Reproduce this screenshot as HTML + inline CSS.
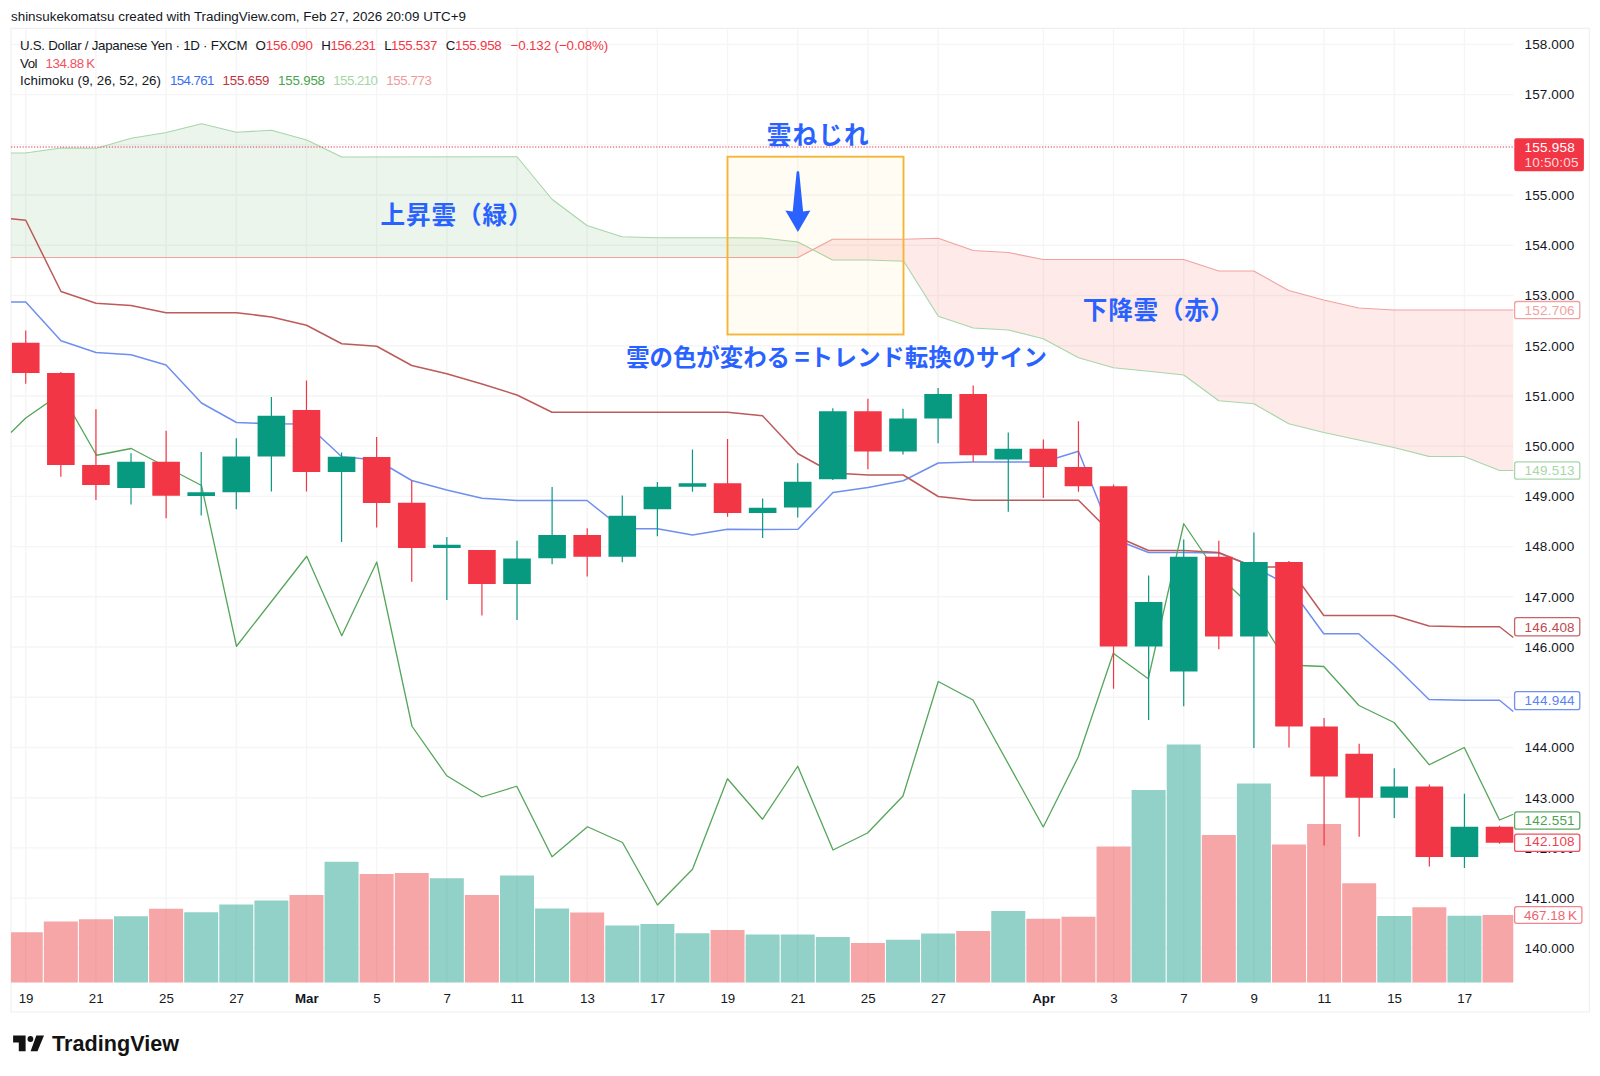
<!DOCTYPE html>
<html lang="ja"><head><meta charset="utf-8"><title>USDJPY Ichimoku chart</title>
<style>html,body{margin:0;padding:0;background:#fff}body{width:1600px;height:1076px;overflow:hidden}svg{display:block}text{font-family:"Liberation Sans","Noto Sans CJK JP",sans-serif;}</style></head><body>
<svg width="1600" height="1076" viewBox="0 0 1600 1076">
<rect width="1600" height="1076" fill="#fff"/>
<g stroke="#f5f5f6" stroke-width="1.4" fill="none">
<line x1="25.75" y1="28.3" x2="25.75" y2="983.0"/>
<line x1="95.93" y1="28.3" x2="95.93" y2="983.0"/>
<line x1="166.11" y1="28.3" x2="166.11" y2="983.0"/>
<line x1="236.29" y1="28.3" x2="236.29" y2="983.0"/>
<line x1="306.47" y1="28.3" x2="306.47" y2="983.0"/>
<line x1="376.65" y1="28.3" x2="376.65" y2="983.0"/>
<line x1="446.83" y1="28.3" x2="446.83" y2="983.0"/>
<line x1="517.01" y1="28.3" x2="517.01" y2="983.0"/>
<line x1="587.19" y1="28.3" x2="587.19" y2="983.0"/>
<line x1="657.37" y1="28.3" x2="657.37" y2="983.0"/>
<line x1="727.55" y1="28.3" x2="727.55" y2="983.0"/>
<line x1="797.73" y1="28.3" x2="797.73" y2="983.0"/>
<line x1="867.91" y1="28.3" x2="867.91" y2="983.0"/>
<line x1="938.09" y1="28.3" x2="938.09" y2="983.0"/>
<line x1="1043.36" y1="28.3" x2="1043.36" y2="983.0"/>
<line x1="1113.54" y1="28.3" x2="1113.54" y2="983.0"/>
<line x1="1183.72" y1="28.3" x2="1183.72" y2="983.0"/>
<line x1="1253.90" y1="28.3" x2="1253.90" y2="983.0"/>
<line x1="1324.08" y1="28.3" x2="1324.08" y2="983.0"/>
<line x1="1394.26" y1="28.3" x2="1394.26" y2="983.0"/>
<line x1="1464.44" y1="28.3" x2="1464.44" y2="983.0"/>
<line x1="11" y1="948.36" x2="1513.3" y2="948.36"/>
<line x1="11" y1="898.14" x2="1513.3" y2="898.14"/>
<line x1="11" y1="847.92" x2="1513.3" y2="847.92"/>
<line x1="11" y1="797.70" x2="1513.3" y2="797.70"/>
<line x1="11" y1="747.48" x2="1513.3" y2="747.48"/>
<line x1="11" y1="697.26" x2="1513.3" y2="697.26"/>
<line x1="11" y1="647.04" x2="1513.3" y2="647.04"/>
<line x1="11" y1="596.82" x2="1513.3" y2="596.82"/>
<line x1="11" y1="546.60" x2="1513.3" y2="546.60"/>
<line x1="11" y1="496.38" x2="1513.3" y2="496.38"/>
<line x1="11" y1="446.16" x2="1513.3" y2="446.16"/>
<line x1="11" y1="395.94" x2="1513.3" y2="395.94"/>
<line x1="11" y1="345.72" x2="1513.3" y2="345.72"/>
<line x1="11" y1="295.50" x2="1513.3" y2="295.50"/>
<line x1="11" y1="245.28" x2="1513.3" y2="245.28"/>
<line x1="11" y1="195.06" x2="1513.3" y2="195.06"/>
<line x1="11" y1="144.84" x2="1513.3" y2="144.84"/>
<line x1="11" y1="94.62" x2="1513.3" y2="94.62"/>
<line x1="11" y1="44.40" x2="1513.3" y2="44.40"/>
</g>
<g stroke="#f0f0f2" stroke-width="1.2" fill="none">
<path d="M11,28.3 H1589.3 V1012 H11 Z"/>
</g>
<polygon points="11,153 25.25,153 61.25,148 96.5,148.25 131.25,138.25 166.25,132.5 201.5,123.75 236.5,132.25 271.5,130.25 306.75,140 341.75,157 517,156.75 552,199.25 587,225.5 622,236.75 657.5,237.75 727.5,237.75 762.5,238 798,242 798,257.5 11,257.5" fill="#43a047" fill-opacity="0.105"/>
<polygon points="798,257.5 832.5,239.25 903.75,239.25 938.25,238.25 973.25,250.5 1008.25,252.5 1043.25,259.5 1183.75,259.5 1218.75,271 1253.75,271 1288.75,290.5 1323.75,300 1358.75,308 1393.75,310 1513.3,310 1513.3,470.5 1499.6,470.5 1464,456.5 1428.9,456.4 1393.75,447.5 1358.75,440 1323.75,432.5 1288.75,423.75 1253.75,403.75 1218.75,400.75 1183.75,375 1148.75,371.25 1113.5,367.75 1078.5,357.75 1043.25,338.75 1008.25,330 973.25,328 938.25,316.25 903.75,261.25 867.5,260 832.5,260 798,242" fill="#f44336" fill-opacity="0.115"/>
<polyline points="11,153 25.25,153 61.25,148 96.5,148.25 131.25,138.25 166.25,132.5 201.5,123.75 236.5,132.25 271.5,130.25 306.75,140 341.75,157 517,156.75 552,199.25 587,225.5 622,236.75 657.5,237.75 727.5,237.75 762.5,238 798,242 832.5,260 867.5,260 903.75,261.25 938.25,316.25 973.25,328 1008.25,330 1043.25,338.75 1078.5,357.75 1113.5,367.75 1148.75,371.25 1183.75,375 1218.75,400.75 1253.75,403.75 1288.75,423.75 1323.75,432.5 1358.75,440 1393.75,447.5 1428.9,456.4 1464,456.5 1499.6,470.5 1513.3,470.5" fill="none" stroke="#a8d6aa" stroke-width="1.15" stroke-linejoin="round"/>
<polyline points="11,257.5 798,257.5 832.5,239.25 903.75,239.25 938.25,238.25 973.25,250.5 1008.25,252.5 1043.25,259.5 1183.75,259.5 1218.75,271 1253.75,271 1288.75,290.5 1323.75,300 1358.75,308 1393.75,310 1513.3,310" fill="none" stroke="#f0a2a2" stroke-width="1.15" stroke-linejoin="round"/>
<g>
<rect x="11.00" y="932.25" width="31.75" height="50.25" fill="#f7a6a8"/>
<rect x="43.84" y="921.5" width="34.00" height="61" fill="#f7a6a8"/>
<rect x="78.93" y="919.25" width="34.00" height="63.25" fill="#f7a6a8"/>
<rect x="114.02" y="916.25" width="34.00" height="66.25" fill="#92d1c8"/>
<rect x="149.11" y="908.75" width="34.00" height="73.75" fill="#f7a6a8"/>
<rect x="184.20" y="912.25" width="34.00" height="70.25" fill="#92d1c8"/>
<rect x="219.29" y="904.5" width="34.00" height="78" fill="#92d1c8"/>
<rect x="254.38" y="900.5" width="34.00" height="82" fill="#92d1c8"/>
<rect x="289.47" y="895" width="34.00" height="87.5" fill="#f7a6a8"/>
<rect x="324.56" y="861.75" width="34.00" height="120.75" fill="#92d1c8"/>
<rect x="359.65" y="874" width="34.00" height="108.5" fill="#f7a6a8"/>
<rect x="394.74" y="873" width="34.00" height="109.5" fill="#f7a6a8"/>
<rect x="429.83" y="878.25" width="34.00" height="104.25" fill="#92d1c8"/>
<rect x="464.92" y="895" width="34.00" height="87.5" fill="#f7a6a8"/>
<rect x="500.01" y="875.5" width="34.00" height="107" fill="#92d1c8"/>
<rect x="535.10" y="908.5" width="34.00" height="74" fill="#92d1c8"/>
<rect x="570.19" y="912.5" width="34.00" height="70" fill="#f7a6a8"/>
<rect x="605.28" y="925.5" width="34.00" height="57" fill="#92d1c8"/>
<rect x="640.37" y="924" width="34.00" height="58.5" fill="#92d1c8"/>
<rect x="675.46" y="933.25" width="34.00" height="49.25" fill="#92d1c8"/>
<rect x="710.55" y="930" width="34.00" height="52.5" fill="#f7a6a8"/>
<rect x="745.64" y="934.5" width="34.00" height="48" fill="#92d1c8"/>
<rect x="780.73" y="934.5" width="34.00" height="48" fill="#92d1c8"/>
<rect x="815.82" y="937" width="34.00" height="45.5" fill="#92d1c8"/>
<rect x="850.91" y="943" width="34.00" height="39.5" fill="#f7a6a8"/>
<rect x="886.00" y="939.75" width="34.00" height="42.75" fill="#92d1c8"/>
<rect x="921.09" y="933.5" width="34.00" height="49" fill="#92d1c8"/>
<rect x="956.18" y="931" width="34.00" height="51.5" fill="#f7a6a8"/>
<rect x="991.27" y="911" width="34.00" height="71.5" fill="#92d1c8"/>
<rect x="1026.36" y="918.75" width="34.00" height="63.75" fill="#f7a6a8"/>
<rect x="1061.45" y="916.75" width="34.00" height="65.75" fill="#f7a6a8"/>
<rect x="1096.54" y="846.5" width="34.00" height="136" fill="#f7a6a8"/>
<rect x="1131.63" y="790" width="34.00" height="192.5" fill="#92d1c8"/>
<rect x="1166.72" y="744.5" width="34.00" height="238" fill="#92d1c8"/>
<rect x="1201.81" y="835" width="34.00" height="147.5" fill="#f7a6a8"/>
<rect x="1236.90" y="783.5" width="34.00" height="199" fill="#92d1c8"/>
<rect x="1271.99" y="844.5" width="34.00" height="138" fill="#f7a6a8"/>
<rect x="1307.08" y="824" width="34.00" height="158.5" fill="#f7a6a8"/>
<rect x="1342.17" y="883.25" width="34.00" height="99.25" fill="#f7a6a8"/>
<rect x="1377.26" y="916" width="34.00" height="66.5" fill="#92d1c8"/>
<rect x="1412.35" y="907.25" width="34.00" height="75.25" fill="#f7a6a8"/>
<rect x="1447.44" y="915.75" width="34.00" height="66.75" fill="#92d1c8"/>
<rect x="1482.53" y="915" width="30.77" height="67.5" fill="#f7a6a8"/>
</g>
<g stroke="#000" stroke-opacity="0.035" stroke-width="1.2">
<line x1="25.75" y1="932.25" x2="25.75" y2="982.5"/>
<line x1="95.93" y1="919.25" x2="95.93" y2="982.5"/>
<line x1="166.11" y1="908.75" x2="166.11" y2="982.5"/>
<line x1="236.29" y1="904.5" x2="236.29" y2="982.5"/>
<line x1="306.47" y1="895" x2="306.47" y2="982.5"/>
<line x1="376.65" y1="874" x2="376.65" y2="982.5"/>
<line x1="446.83" y1="878.25" x2="446.83" y2="982.5"/>
<line x1="517.01" y1="875.5" x2="517.01" y2="982.5"/>
<line x1="587.19" y1="912.5" x2="587.19" y2="982.5"/>
<line x1="657.37" y1="924" x2="657.37" y2="982.5"/>
<line x1="727.55" y1="930" x2="727.55" y2="982.5"/>
<line x1="797.73" y1="934.5" x2="797.73" y2="982.5"/>
<line x1="867.91" y1="943" x2="867.91" y2="982.5"/>
<line x1="938.09" y1="933.5" x2="938.09" y2="982.5"/>
<line x1="1043.36" y1="918.75" x2="1043.36" y2="982.5"/>
<line x1="1113.54" y1="846.5" x2="1113.54" y2="982.5"/>
<line x1="1183.72" y1="744.5" x2="1183.72" y2="982.5"/>
<line x1="1253.90" y1="783.5" x2="1253.90" y2="982.5"/>
<line x1="1324.08" y1="824" x2="1324.08" y2="982.5"/>
<line x1="1394.26" y1="916" x2="1394.26" y2="982.5"/>
<line x1="1464.44" y1="915.75" x2="1464.44" y2="982.5"/>
</g>
<line x1="11" y1="146.9" x2="1513.3" y2="146.9" stroke="#e0455a" stroke-opacity="0.72" stroke-width="1.5" stroke-dasharray="1.25 1.63"/>
<polyline points="11,302 25.75,302 61,340.75 96,352.5 131,354.75 166,365 201.5,403 236.5,422.5 271.5,423.75 306.5,424 341.75,456.75 376.75,460 411.75,480.5 446.75,490 482,498.25 517,500.5 552,500.5 587,500.5 622.5,528.75 657.5,528.75 692.5,535 727.5,529.25 762.5,529.5 798,529.25 833,492.5 868,487.5 903.25,480.75 938.25,463 973.25,462 1008.25,462 1043.5,462 1078.5,451.25 1113.5,538.75 1148.5,552.5 1183.75,552.5 1218.75,553 1253.75,566.5 1288.75,585.75 1323.75,633.75 1358.75,633.75 1394,665 1429,699.5 1464.25,700.25 1499.5,700.25 1513.3,711.5" fill="none" stroke="#6f8ff0" stroke-width="1.5" stroke-linejoin="round"/>
<polyline points="11,218.75 25.75,220.25 61,291.5 96,303.25 131,305.5 166,312.75 201.5,312.75 236.5,312.75 271.5,317 306.5,325.25 341.75,343.75 376.75,346.25 411.75,365.5 446.75,373.75 482,384 517,395 552,412.25 587,412.25 622.5,412.25 657.5,412.25 692.5,412.25 727.5,412.25 762.5,415.75 798,453.75 833,473 868,475 903.25,475 938.25,496.5 973.25,500.25 1008.25,500.25 1043.5,500.25 1078.5,500.25 1113.5,535.25 1148.5,550.5 1183.75,550.5 1218.75,552.5 1253.75,567 1288.75,567 1323.75,615.5 1358.75,615.5 1394,615.5 1429,626 1464.25,626.75 1499.5,626.75 1513.3,637.5" fill="none" stroke="#bd5a5a" stroke-width="1.5" stroke-linejoin="round"/>
<polyline points="11,432.5 25.75,418 61.25,393.4 96.5,455.25 131.25,448.5 201.5,485.5 236.5,646.25 306.75,556.25 341.75,635.75 376.75,562 412,726.25 446.75,775.75 481.75,797 516.75,786.25 552,856.75 587.5,826.75 622.5,842.5 657.5,905 692.5,869.25 727.5,778.75 762.5,819.25 797.75,766.25 833,850 867.5,833 903,796 938.25,681.5 973,700 1043.25,827 1078.25,757 1113.25,653.25 1148.25,678.75 1183.75,523.75 1218.75,575.5 1253.75,609 1288.75,665 1323.75,666.5 1359,705.5 1394,722.5 1429.25,764.75 1464.25,747.5 1499.5,820 1513.3,814.25" fill="none" stroke="#55a55a" stroke-width="1.3" stroke-linejoin="round"/>
<g>
<rect x="25.15" y="330.5" width="1.2" height="53.25" fill="#f23645"/>
<rect x="11.95" y="342.75" width="27.6" height="30.25" fill="#f23645"/>
<rect x="60.24" y="372" width="1.2" height="104.75" fill="#f23645"/>
<rect x="47.04" y="373" width="27.6" height="92" fill="#f23645"/>
<rect x="95.33" y="409.25" width="1.2" height="90.75" fill="#f23645"/>
<rect x="82.13" y="465" width="27.6" height="20" fill="#f23645"/>
<rect x="130.42" y="453.25" width="1.2" height="51.25" fill="#089981"/>
<rect x="117.22" y="461.75" width="27.6" height="26.25" fill="#089981"/>
<rect x="165.51" y="430.75" width="1.2" height="87.5" fill="#f23645"/>
<rect x="152.31" y="461.75" width="27.6" height="34" fill="#f23645"/>
<rect x="200.60" y="452" width="1.2" height="63.5" fill="#089981"/>
<rect x="187.40" y="492.25" width="27.6" height="3.75" fill="#089981"/>
<rect x="235.69" y="438.25" width="1.2" height="71" fill="#089981"/>
<rect x="222.49" y="456.5" width="27.6" height="35.75" fill="#089981"/>
<rect x="270.78" y="397" width="1.2" height="94.5" fill="#089981"/>
<rect x="257.58" y="415.75" width="27.6" height="40.75" fill="#089981"/>
<rect x="305.87" y="380.5" width="1.2" height="111" fill="#f23645"/>
<rect x="292.67" y="410" width="27.6" height="62" fill="#f23645"/>
<rect x="340.96" y="452.5" width="1.2" height="89.5" fill="#089981"/>
<rect x="327.76" y="456.75" width="27.6" height="15.25" fill="#089981"/>
<rect x="376.05" y="437" width="1.2" height="90.5" fill="#f23645"/>
<rect x="362.85" y="457" width="27.6" height="46" fill="#f23645"/>
<rect x="411.14" y="480.5" width="1.2" height="101.25" fill="#f23645"/>
<rect x="397.94" y="502.75" width="27.6" height="45.25" fill="#f23645"/>
<rect x="446.23" y="537" width="1.2" height="63" fill="#089981"/>
<rect x="433.03" y="544.75" width="27.6" height="3.25" fill="#089981"/>
<rect x="481.32" y="550" width="1.2" height="65.5" fill="#f23645"/>
<rect x="468.12" y="550" width="27.6" height="34" fill="#f23645"/>
<rect x="516.41" y="540.75" width="1.2" height="79.25" fill="#089981"/>
<rect x="503.21" y="558.5" width="27.6" height="25.5" fill="#089981"/>
<rect x="551.50" y="487" width="1.2" height="77.25" fill="#089981"/>
<rect x="538.30" y="535" width="27.6" height="23.25" fill="#089981"/>
<rect x="586.59" y="528.25" width="1.2" height="48.25" fill="#f23645"/>
<rect x="573.39" y="535" width="27.6" height="21.75" fill="#f23645"/>
<rect x="621.68" y="495.5" width="1.2" height="66.75" fill="#089981"/>
<rect x="608.48" y="515.75" width="27.6" height="41" fill="#089981"/>
<rect x="656.77" y="482" width="1.2" height="54.25" fill="#089981"/>
<rect x="643.57" y="486.75" width="27.6" height="22.5" fill="#089981"/>
<rect x="691.86" y="449.5" width="1.2" height="42.25" fill="#089981"/>
<rect x="678.66" y="483.25" width="27.6" height="3.5" fill="#089981"/>
<rect x="726.95" y="439" width="1.2" height="77.75" fill="#f23645"/>
<rect x="713.75" y="483.25" width="27.6" height="29.75" fill="#f23645"/>
<rect x="762.04" y="498.5" width="1.2" height="39.5" fill="#089981"/>
<rect x="748.84" y="507.75" width="27.6" height="5.25" fill="#089981"/>
<rect x="797.13" y="463.25" width="1.2" height="54.25" fill="#089981"/>
<rect x="783.93" y="481.75" width="27.6" height="25.75" fill="#089981"/>
<rect x="832.22" y="408.25" width="1.2" height="71.75" fill="#089981"/>
<rect x="819.02" y="411.25" width="27.6" height="68" fill="#089981"/>
<rect x="867.31" y="398.75" width="1.2" height="70.5" fill="#f23645"/>
<rect x="854.11" y="411.25" width="27.6" height="40.25" fill="#f23645"/>
<rect x="902.40" y="408.75" width="1.2" height="45.75" fill="#089981"/>
<rect x="889.20" y="418.5" width="27.6" height="33" fill="#089981"/>
<rect x="937.49" y="388" width="1.2" height="55.25" fill="#089981"/>
<rect x="924.29" y="394" width="27.6" height="24.5" fill="#089981"/>
<rect x="972.58" y="385.5" width="1.2" height="76.25" fill="#f23645"/>
<rect x="959.38" y="394" width="27.6" height="61.25" fill="#f23645"/>
<rect x="1007.67" y="432.5" width="1.2" height="79.25" fill="#089981"/>
<rect x="994.47" y="448.75" width="27.6" height="10.75" fill="#089981"/>
<rect x="1042.76" y="439.5" width="1.2" height="58.5" fill="#f23645"/>
<rect x="1029.56" y="448.75" width="27.6" height="18.25" fill="#f23645"/>
<rect x="1077.85" y="421.25" width="1.2" height="70.5" fill="#f23645"/>
<rect x="1064.65" y="467" width="27.6" height="19.25" fill="#f23645"/>
<rect x="1112.94" y="484.5" width="1.2" height="204.25" fill="#f23645"/>
<rect x="1099.74" y="486.25" width="27.6" height="160.25" fill="#f23645"/>
<rect x="1148.03" y="575.5" width="1.2" height="144.5" fill="#089981"/>
<rect x="1134.83" y="602" width="27.6" height="44.5" fill="#089981"/>
<rect x="1183.12" y="539.5" width="1.2" height="166.75" fill="#089981"/>
<rect x="1169.92" y="556.75" width="27.6" height="114.75" fill="#089981"/>
<rect x="1218.21" y="540.75" width="1.2" height="108.5" fill="#f23645"/>
<rect x="1205.01" y="556.75" width="27.6" height="79.75" fill="#f23645"/>
<rect x="1253.30" y="532.5" width="1.2" height="215.5" fill="#089981"/>
<rect x="1240.10" y="562" width="27.6" height="74.5" fill="#089981"/>
<rect x="1288.39" y="561" width="1.2" height="186.5" fill="#f23645"/>
<rect x="1275.19" y="562" width="27.6" height="164.5" fill="#f23645"/>
<rect x="1323.48" y="718" width="1.2" height="127.5" fill="#f23645"/>
<rect x="1310.28" y="726.5" width="27.6" height="50" fill="#f23645"/>
<rect x="1358.57" y="743.75" width="1.2" height="93" fill="#f23645"/>
<rect x="1345.37" y="753.75" width="27.6" height="44" fill="#f23645"/>
<rect x="1393.66" y="768.25" width="1.2" height="49.75" fill="#089981"/>
<rect x="1380.46" y="786.5" width="27.6" height="11.25" fill="#089981"/>
<rect x="1428.75" y="784.5" width="1.2" height="82" fill="#f23645"/>
<rect x="1415.55" y="786.5" width="27.6" height="70.5" fill="#f23645"/>
<rect x="1463.84" y="793.75" width="1.2" height="74.25" fill="#089981"/>
<rect x="1450.64" y="826.75" width="27.6" height="30.25" fill="#089981"/>
<rect x="1498.93" y="825.75" width="1.2" height="18" fill="#f23645"/>
<rect x="1485.73" y="826.75" width="27.6" height="16" fill="#f23645"/>
</g>
<rect x="727.5" y="156.7" width="176" height="177.8" fill="#ffc107" fill-opacity="0.045" stroke="#f7b538" stroke-width="1.9"/>
<path d="M796.6,172.2 Q797.9,169.6 799.2,172.2 L803.1,211.6 L810.4,210.6 L797.9,231.9 L785.4,210.6 L792.7,211.6 Z" fill="#2962ff"/>
<text x="766.8" y="143.6" font-size="24.6" fill="#2962ff" font-weight="bold" letter-spacing="1.1">雲ねじれ</text>
<text x="380.5" y="224.2" font-size="24.6" fill="#2962ff" font-weight="bold" letter-spacing="0.9">上昇雲（緑）</text>
<text x="1082.8" y="319.3" font-size="24.6" fill="#2962ff" font-weight="bold" letter-spacing="0.8">下降雲（赤）</text>
<text x="626.2" y="366.4" font-size="23.4" fill="#2962ff" font-weight="bold">雲の色が変わる<tspan dx="4.6" font-size="26">=</tspan><tspan dx="0" letter-spacing="0.35">トレンド転換のサイン</tspan></text>
<text x="1524.5" y="953.16" font-size="13.5" fill="#131722" textLength="49.7" lengthAdjust="spacing">140.000</text>
<text x="1524.5" y="902.94" font-size="13.5" fill="#131722" textLength="49.7" lengthAdjust="spacing">141.000</text>
<text x="1524.5" y="852.72" font-size="13.5" fill="#131722" textLength="49.7" lengthAdjust="spacing">142.000</text>
<text x="1524.5" y="802.5" font-size="13.5" fill="#131722" textLength="49.7" lengthAdjust="spacing">143.000</text>
<text x="1524.5" y="752.28" font-size="13.5" fill="#131722" textLength="49.7" lengthAdjust="spacing">144.000</text>
<text x="1524.5" y="702.06" font-size="13.5" fill="#131722" textLength="49.7" lengthAdjust="spacing">145.000</text>
<text x="1524.5" y="651.84" font-size="13.5" fill="#131722" textLength="49.7" lengthAdjust="spacing">146.000</text>
<text x="1524.5" y="601.62" font-size="13.5" fill="#131722" textLength="49.7" lengthAdjust="spacing">147.000</text>
<text x="1524.5" y="551.4" font-size="13.5" fill="#131722" textLength="49.7" lengthAdjust="spacing">148.000</text>
<text x="1524.5" y="501.18" font-size="13.5" fill="#131722" textLength="49.7" lengthAdjust="spacing">149.000</text>
<text x="1524.5" y="450.96" font-size="13.5" fill="#131722" textLength="49.7" lengthAdjust="spacing">150.000</text>
<text x="1524.5" y="400.74" font-size="13.5" fill="#131722" textLength="49.7" lengthAdjust="spacing">151.000</text>
<text x="1524.5" y="350.52" font-size="13.5" fill="#131722" textLength="49.7" lengthAdjust="spacing">152.000</text>
<text x="1524.5" y="300.3" font-size="13.5" fill="#131722" textLength="49.7" lengthAdjust="spacing">153.000</text>
<text x="1524.5" y="250.08" font-size="13.5" fill="#131722" textLength="49.7" lengthAdjust="spacing">154.000</text>
<text x="1524.5" y="199.86" font-size="13.5" fill="#131722" textLength="49.7" lengthAdjust="spacing">155.000</text>
<text x="1524.5" y="149.64" font-size="13.5" fill="#131722" textLength="49.7" lengthAdjust="spacing">156.000</text>
<text x="1524.5" y="99.42" font-size="13.5" fill="#131722" textLength="49.7" lengthAdjust="spacing">157.000</text>
<text x="1524.5" y="49.2" font-size="13.5" fill="#131722" textLength="49.7" lengthAdjust="spacing">158.000</text>
<text x="26.05" y="1002.9" font-size="13.3" fill="#131722" text-anchor="middle">19</text>
<text x="96.23" y="1002.9" font-size="13.3" fill="#131722" text-anchor="middle">21</text>
<text x="166.41" y="1002.9" font-size="13.3" fill="#131722" text-anchor="middle">25</text>
<text x="236.59" y="1002.9" font-size="13.3" fill="#131722" text-anchor="middle">27</text>
<text x="306.77" y="1002.9" font-size="13.3" fill="#131722" font-weight="bold" text-anchor="middle">Mar</text>
<text x="376.95" y="1002.9" font-size="13.3" fill="#131722" text-anchor="middle">5</text>
<text x="447.13" y="1002.9" font-size="13.3" fill="#131722" text-anchor="middle">7</text>
<text x="517.31" y="1002.9" font-size="13.3" fill="#131722" text-anchor="middle">11</text>
<text x="587.49" y="1002.9" font-size="13.3" fill="#131722" text-anchor="middle">13</text>
<text x="657.67" y="1002.9" font-size="13.3" fill="#131722" text-anchor="middle">17</text>
<text x="727.85" y="1002.9" font-size="13.3" fill="#131722" text-anchor="middle">19</text>
<text x="798.03" y="1002.9" font-size="13.3" fill="#131722" text-anchor="middle">21</text>
<text x="868.21" y="1002.9" font-size="13.3" fill="#131722" text-anchor="middle">25</text>
<text x="938.39" y="1002.9" font-size="13.3" fill="#131722" text-anchor="middle">27</text>
<text x="1043.66" y="1002.9" font-size="13.3" fill="#131722" font-weight="bold" text-anchor="middle">Apr</text>
<text x="1113.84" y="1002.9" font-size="13.3" fill="#131722" text-anchor="middle">3</text>
<text x="1184.02" y="1002.9" font-size="13.3" fill="#131722" text-anchor="middle">7</text>
<text x="1254.2" y="1002.9" font-size="13.3" fill="#131722" text-anchor="middle">9</text>
<text x="1324.38" y="1002.9" font-size="13.3" fill="#131722" text-anchor="middle">11</text>
<text x="1394.56" y="1002.9" font-size="13.3" fill="#131722" text-anchor="middle">15</text>
<text x="1464.74" y="1002.9" font-size="13.3" fill="#131722" text-anchor="middle">17</text>
<rect x="1514.6" y="301.5" width="65.2" height="17.2" rx="2.2" fill="#fff" stroke="#f0a2a2" stroke-width="1.3"/>
<text x="1524.6" y="314.9" font-size="13.5" fill="#f0a2a2" textLength="50" lengthAdjust="spacing">152.706</text>
<rect x="1514.6" y="461.9" width="65.2" height="17.2" rx="2.2" fill="#fff" stroke="#a8d6aa" stroke-width="1.3"/>
<text x="1524.6" y="475.3" font-size="13.5" fill="#a8d6aa" textLength="50" lengthAdjust="spacing">149.513</text>
<rect x="1514.6" y="617.6" width="65.2" height="18.2" rx="2.2" fill="#fff" stroke="#c46666" stroke-width="1.3"/>
<text x="1524.6" y="631.5" font-size="13.5" fill="#c04a4e" textLength="50" lengthAdjust="spacing">146.408</text>
<rect x="1514.6" y="691.6" width="65.2" height="18" rx="2.2" fill="#fff" stroke="#7091f1" stroke-width="1.3"/>
<text x="1524.6" y="705.4" font-size="13.5" fill="#5a82f2" textLength="50" lengthAdjust="spacing">144.944</text>
<rect x="1514.6" y="811.9" width="65.2" height="17.2" rx="2.2" fill="#fff" stroke="#5fab63" stroke-width="1.3"/>
<text x="1524.6" y="825.3" font-size="13.5" fill="#4da252" textLength="50" lengthAdjust="spacing">142.551</text>
<rect x="1514.6" y="834.1" width="65.2" height="17.3" rx="2.2" fill="#fff" stroke="#f0525f" stroke-width="1.3"/>
<text x="1524.6" y="846.45" font-size="13.5" fill="#ef3f4f" textLength="50" lengthAdjust="spacing">142.108</text>
<rect x="1514.6" y="906.6" width="67.3" height="16.7" rx="2.2" fill="#fff" stroke="#f1858d" stroke-width="1.3"/>
<text x="1524" y="919.75" font-size="13.5" fill="#ee6570" textLength="53" lengthAdjust="spacing">467.18&#8201;K</text>
<rect x="1514.3" y="138.2" width="69.6" height="33" rx="2.2" fill="#f23645"/>
<text x="1524.5" y="152.1" font-size="13.5" fill="#fff" textLength="50.3" lengthAdjust="spacing">155.958</text>
<text x="1524.5" y="166.8" font-size="13.5" fill="#fff" textLength="54" lengthAdjust="spacing" fill-opacity="0.82">10:50:05</text>
<text x="11" y="21.3" font-size="13.4" fill="#131722" textLength="455" lengthAdjust="spacing">shinsukekomatsu created with TradingView.com, Feb 27, 2026 20:09 UTC+9</text>
<text x="20" y="50" font-size="13.3" fill="#131722" textLength="227.5" lengthAdjust="spacing">U.S. Dollar / Japanese Yen · 1D · FXCM</text>
<text x="255.5" y="50" font-size="13.3" fill="#131722">O</text>
<text x="265.75" y="50" font-size="13.3" fill="#f23645" textLength="47.25" lengthAdjust="spacing">156.090</text>
<text x="321.25" y="50" font-size="13.3" fill="#131722">H</text>
<text x="330.5" y="50" font-size="13.3" fill="#f23645" textLength="45.5" lengthAdjust="spacing">156.231</text>
<text x="384.25" y="50" font-size="13.3" fill="#131722">L</text>
<text x="391" y="50" font-size="13.3" fill="#f23645" textLength="46.5" lengthAdjust="spacing">155.537</text>
<text x="445.75" y="50" font-size="13.3" fill="#131722">C</text>
<text x="455" y="50" font-size="13.3" fill="#f23645" textLength="46.75" lengthAdjust="spacing">155.958</text>
<text x="510.5" y="50" font-size="13.3" fill="#f23645" textLength="97.75" lengthAdjust="spacing">−0.132 (−0.08%)</text>
<text x="20" y="67.5" font-size="13.3" fill="#131722" textLength="17.5" lengthAdjust="spacing">Vol</text>
<text x="45.5" y="67.5" font-size="13.3" fill="#f0525f" textLength="49.5" lengthAdjust="spacing">134.88&#8201;K</text>
<text x="20" y="85.4" font-size="13.3" fill="#131722" textLength="141" lengthAdjust="spacing">Ichimoku (9, 26, 52, 26)</text>
<text x="170" y="85.4" font-size="13.3" fill="#3b6df0" textLength="44.5" lengthAdjust="spacing">154.761</text>
<text x="222.5" y="85.4" font-size="13.3" fill="#c03440" textLength="47" lengthAdjust="spacing">155.659</text>
<text x="278" y="85.4" font-size="13.3" fill="#4aa34e" textLength="47" lengthAdjust="spacing">155.958</text>
<text x="333.25" y="85.4" font-size="13.3" fill="#a5d6a7" textLength="44.75" lengthAdjust="spacing">155.210</text>
<text x="386.25" y="85.4" font-size="13.3" fill="#ef9a9a" textLength="45.75" lengthAdjust="spacing">155.773</text>
<g fill="#131313">
<path d="M13.1,1035.6 H25.6 V1051.3 H18.8 V1042.5 H13.1 Z"/>
<circle cx="30.4" cy="1039" r="2.9"/>
<path d="M36.3,1035.6 H44 L37.5,1051.3 H30.6 Z"/>
</g>
<text x="52" y="1051.3" font-size="21.6" fill="#131313" font-weight="bold" textLength="127" lengthAdjust="spacing">TradingView</text>
</svg></body></html>
